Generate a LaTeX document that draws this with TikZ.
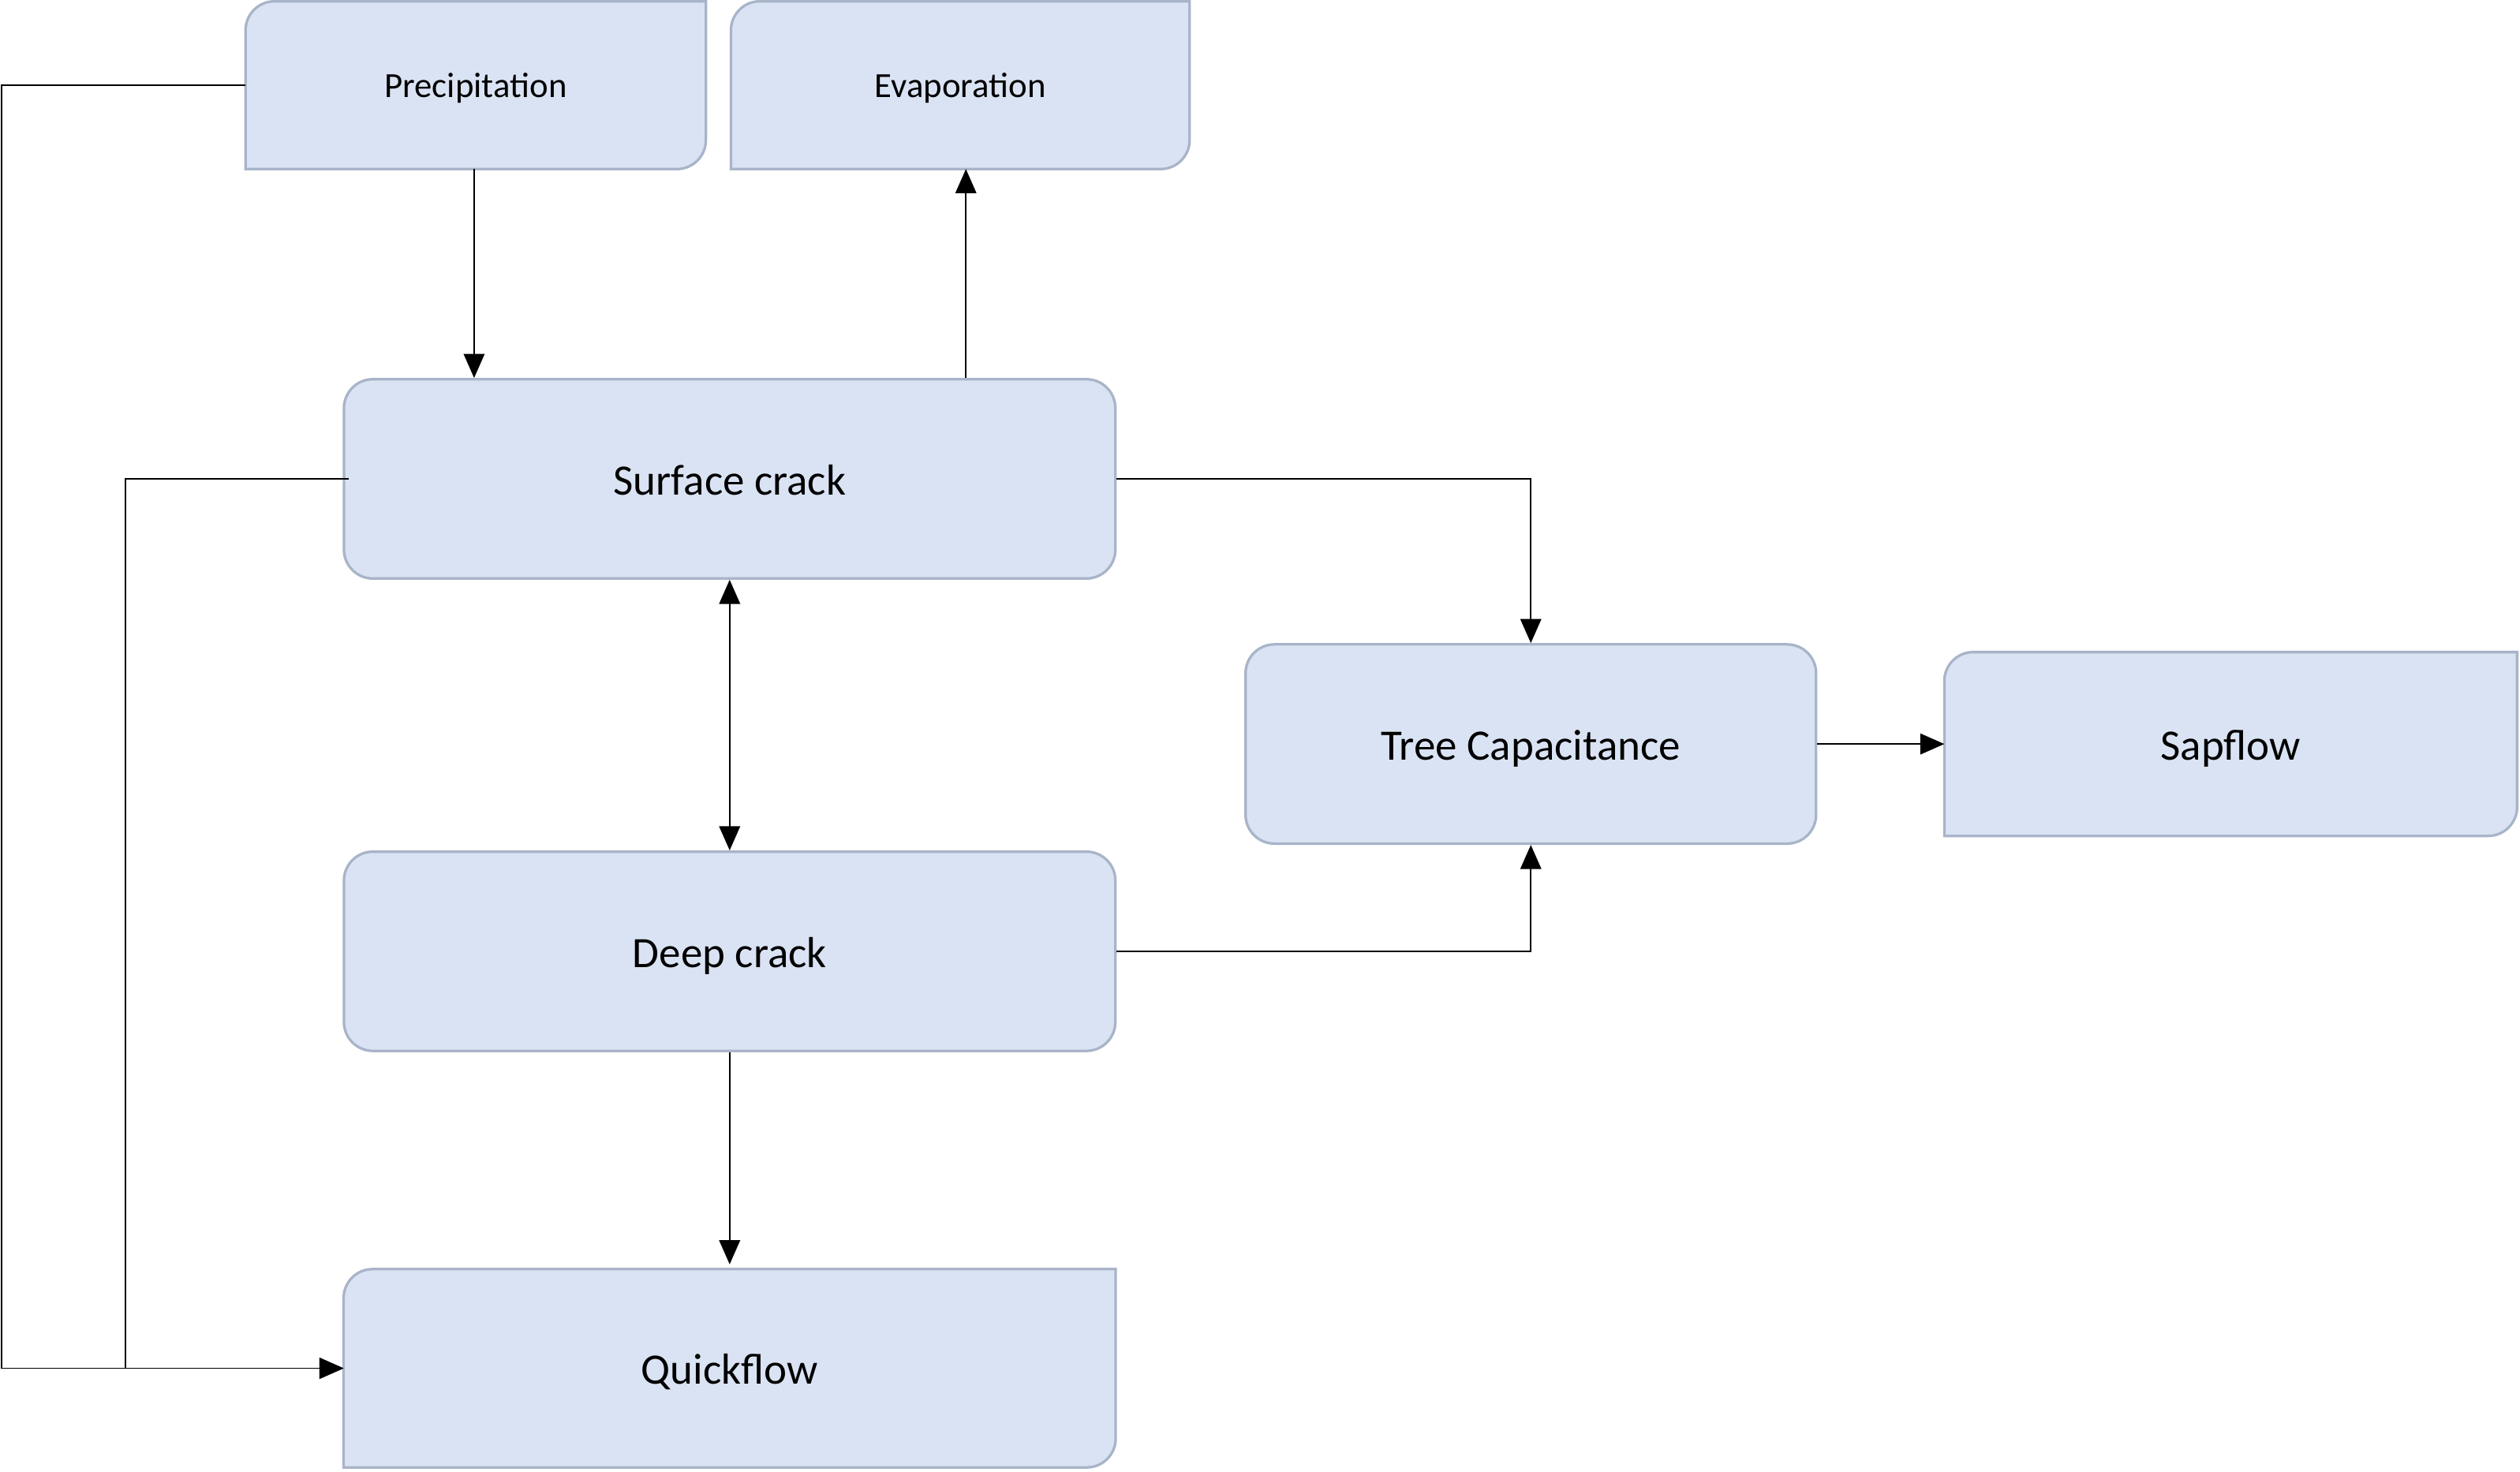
\documentclass[tikz,border=0pt]{standalone}
\usepackage{fontspec}
\setmainfont{Carlito}
\usetikzlibrary{arrows.meta,backgrounds}
\definecolor{boxfill}{RGB}{218,227,243}
\definecolor{boxline}{RGB}{168,180,200}
\tikzset{
  full/.style={rectangle,rounded corners=18pt,draw=boxline,fill=boxfill,line width=1.6pt,inner sep=0pt,font=\fontsize{27}{32}\selectfont,text height=20pt,text depth=0pt},
  halfbox/.style={rectangle,inner sep=0pt},
  smalltxt/.style={font=\fontsize{22}{26}\selectfont,text height=15pt,text depth=0pt},
  bigtxt/.style={font=\fontsize{27}{32}\selectfont,text height=20pt,text depth=0pt},
  conn/.style={draw=black,line width=0.9pt},
  arr/.style={conn,-{Triangle[length=15pt,width=13pt]}},
  darr/.style={conn,{Triangle[length=15pt,width=13pt]}-{Triangle[length=15pt,width=13pt]}},
  halfshape/.style={draw=boxline,fill=boxfill,line width=1.6pt}
}
\newcommand{\halfround}[1]{%
  \path[halfshape] (#1.south west) -- ([yshift=-18pt]#1.north west)
    arc[start angle=180,end angle=90,radius=18pt] -- (#1.north east)
    -- ([yshift=18pt]#1.south east)
    arc[start angle=0,end angle=-90,radius=18pt] -- cycle;}
\begin{document}
\begin{tikzpicture}[x=1pt,y=-1pt]
\useasboundingbox (0,0) rectangle (1568,915.6);
% half-rounded boxes
\node[halfbox,smalltxt,minimum width=286pt,minimum height=104pt] (prec) at (296,53) {Precipitation};
\node[halfbox,smalltxt,minimum width=285pt,minimum height=104pt] (evap) at (597.5,53) {Evaporation};
\node[halfbox,bigtxt,minimum width=356pt,minimum height=114pt] (sap) at (1388,463) {Sapflow};
\node[halfbox,bigtxt,minimum width=480pt,minimum height=123pt] (quick) at (454,851.5) {Quickflow};
\begin{scope}[on background layer]
\halfround{prec}
\halfround{evap}
\halfround{sap}
\halfround{quick}
\end{scope}
% fully rounded boxes
\node[full,minimum width=480pt,minimum height=124pt] (surf) at (454,298) {Surface crack};
\node[full,minimum width=355pt,minimum height=124pt] (tree) at (952.5,463) {Tree Capacitance};
\node[full,minimum width=480pt,minimum height=124pt] (deep) at (454,592) {Deep crack};
% connectors
\draw[arr] (prec.west) -- ++(-152,0) |- (quick.west);
\draw[arr] ([xshift=4pt]surf.west) -- ++(-139,0) |- (quick.west);
\draw[arr] ([xshift=-1pt]prec.south) -- ([xshift=-1pt]prec.south |- surf.north);
\draw[arr] ([xshift=147pt]surf.north) -- ([xshift=147pt]surf.north |- evap.south);
\draw[darr] (surf.south) -- (deep.north);
\draw[arr] (surf.east) -| (tree.north);
\draw[arr] (deep.east) -| (tree.south);
\draw[arr] (tree.east) -- (sap.west);
\draw[arr] (deep.south) -- ([yshift=3pt]quick.north);
\end{tikzpicture}
\end{document}
